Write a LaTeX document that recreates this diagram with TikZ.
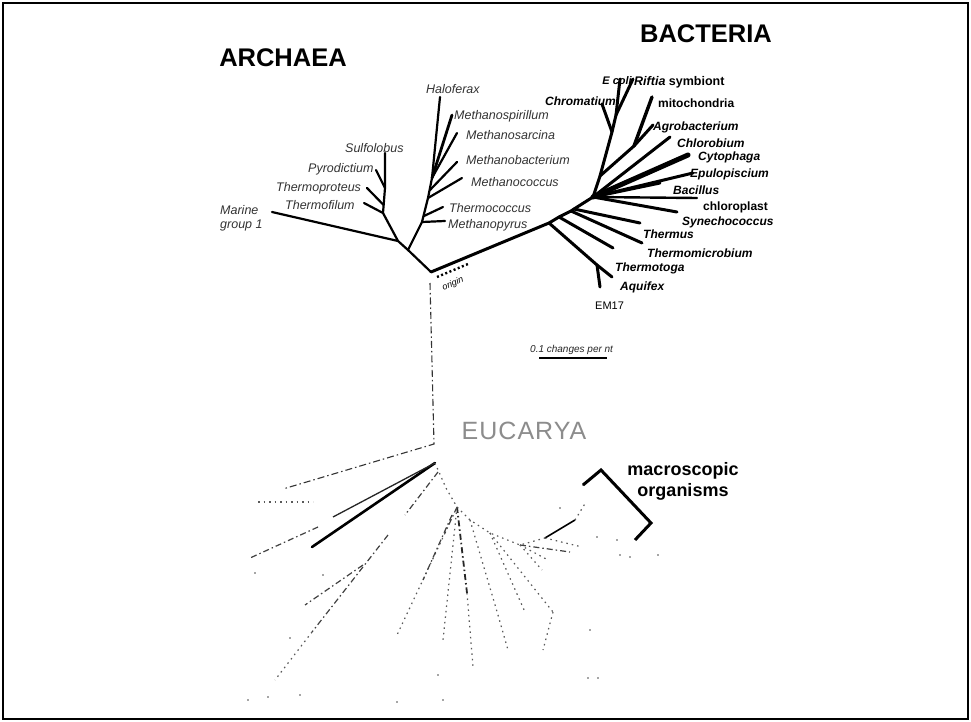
\documentclass[tikz,border=0pt]{standalone}
\usepackage{fontspec}
\setmainfont{Liberation Sans}
\begin{document}
\begin{tikzpicture}[x=1pt,y=-1pt,
  arch/.style={line width=2.2pt,line cap=round,line join=round},
  bact/.style={line width=3pt,line cap=round,line join=round},
  alab/.style={font=\fontsize{12.5}{14}\selectfont\itshape,anchor=west,inner sep=0pt,text=black!80},
  blab/.style={font=\fontsize{12}{14}\selectfont\bfseries\itshape,anchor=west,inner sep=0pt},
  bup/.style={font=\fontsize{12}{14}\selectfont\bfseries,anchor=west,inner sep=0pt},
  title/.style={font=\fontsize{25.5}{30}\selectfont\bfseries,inner sep=0pt},
  rootline/.style={line width=1.1pt,black!80,dash pattern=on 7pt off 3pt on 1.5pt off 3pt},
  ethick/.style={line width=2.6pt,line cap=round},
  emid/.style={line width=1.3pt,black!85},
  edash/.style={line width=1.2pt,black!75,dash pattern=on 6pt off 3pt on 1.5pt off 3pt},
  edot/.style={line width=1.2pt,black!65,dash pattern=on 1.5pt off 4pt},
  dotpt/.style={circle,fill=black!70,inner sep=0pt,minimum size=1.8pt}]
\useasboundingbox (0,0) rectangle (971,722);
\fill[white] (0,0) rectangle (971,722);
\draw[line width=1.2pt] (3,3) rectangle (968,719);

% ---------- titles ----------
\node[title] (tArch) at (283,58) {ARCHAEA};
\node[title] (tBact) at (706,34) {BACTERIA};
\node[font=\fontsize{25}{30}\selectfont\addfontfeature{LetterSpace=4},text=black!45,inner sep=0pt] (tEuk) at (524,431) {EUCARYA};

% ---------- archaea ----------
\coordinate (V) at (431,272);
\coordinate (A0) at (408,250);
\coordinate (C0) at (398,241);
\coordinate (mar) at (272,212);
\coordinate (C1) at (383,213);
\coordinate (C1b) at (383.6,205);
\coordinate (thf) at (364,203);
\coordinate (thp) at (367,188);
\coordinate (C2) at (385,188);
\coordinate (pyr) at (376,170);
\coordinate (sul) at (385,153);
\coordinate (E1) at (422,222);
\coordinate (E1b) at (424,216);
\coordinate (E2) at (428,198);
\coordinate (E2b) at (430,190);
\coordinate (E3) at (432,178);
\coordinate (mpy) at (445,221);
\coordinate (tco) at (443,207);
\coordinate (mco) at (462,178);
\coordinate (mba) at (457,162);
\coordinate (msa) at (457,133);
\coordinate (msp) at (452,115);
\coordinate (hal) at (440,97);

\draw[arch] (V) -- (A0) -- (C0) -- (mar);
\draw[arch] (C0) -- (C1) -- (C2) -- (sul);
\draw[arch] (C1) -- (thf);
\draw[arch] (C1b) -- (thp);
\draw[arch] (C2) -- (pyr);
\draw[arch] (A0) -- (E1) -- (E2) -- (E3) -- (hal);
\draw[arch] (E1) -- (mpy);
\draw[arch] (E1b) -- (tco);
\draw[arch] (E2) -- (mco);
\draw[arch] (E2b) -- (mba);
\draw[arch] (E3) -- (msa);
\draw[arch,line width=2.8pt] (E3) -- (msp);

\node[alab] (lHal) at (426,89) {Haloferax};
\node[alab] (lMsp) at (454,116) {Methanospirillum};
\node[alab] (lMsa) at (466,135) {Methanosarcina};
\node[alab] (lMba) at (466,160) {Methanobacterium};
\node[alab] (lMco) at (471,182) {Methanococcus};
\node[alab] (lTco) at (449,208) {Thermococcus};
\node[alab] (lMpy) at (448,225) {Methanopyrus};
\node[alab] (lSul) at (345,148) {Sulfolobus};
\node[alab] (lPyr) at (308,169) {Pyrodictium};
\node[alab] (lThp) at (276,188) {Thermoproteus};
\node[alab] (lThf) at (285,205) {Thermofilum};
\node[alab,align=left] (lMar) at (220,218) {Marine\\group 1};

% ---------- bacteria ----------
\coordinate (B1) at (549,223);
\coordinate (B2) at (559,217);
\coordinate (B3) at (571,211);
\coordinate (B4) at (574,209);
\coordinate (J) at (593,197);
\coordinate (tmg) at (612,277);
\coordinate (sub) at (597,265);
\coordinate (aqu) at (600,287);
\coordinate (unl) at (613,248);
\coordinate (tmi) at (642,243);
\coordinate (ths) at (640,223);
\coordinate (syn) at (677,212);
\coordinate (chl) at (697,198);
\coordinate (bac) at (660,183);
\coordinate (epu) at (693,173);
\coordinate (cyt) at (688,155);
\coordinate (chb) at (670,137);
\coordinate (P0) at (600,176);
\coordinate (agr) at (653,125);
\coordinate (M0) at (634,146);
\coordinate (mit) at (652,97);
\coordinate (P1) at (612,132);
\coordinate (chr) at (602,104);
\coordinate (P2) at (616,115);
\coordinate (eco) at (620,79);
\coordinate (rif) at (633,79);

\draw[bact] (V) -- (B1) -- (B2) -- (B3) -- (B4) -- (J);
\draw[bact] (B1) -- (sub) -- (tmg);
\draw[bact] (sub) -- (aqu);
\draw[bact] (B2) -- (unl);
\draw[bact] (B3) -- (tmi);
\draw[bact] (B4) -- (ths);
\draw[bact] (J) -- (syn);
\draw[bact,line width=2.4pt] (J) -- (chl);
\draw[bact] (J) -- (bac);
\draw[bact] (J) -- (epu);
\draw[bact,line width=5pt] (J) -- (cyt);
\draw[bact] (J) -- (chb);
\draw[bact] (J) -- (P0) -- (P1) -- (P2) -- (eco);
\draw[bact] (P0) -- (M0) -- (agr);
\draw[bact,line width=3.4pt] (M0) -- (mit);
\draw[bact] (P1) -- (chr);
\draw[bact] (P2) -- (rif);

\node[blab,font=\fontsize{11}{13}\selectfont\bfseries\itshape,anchor=east] (lEco) at (632,81) {E coli};
\node[blab,font=\fontsize{12.5}{14}\selectfont\bfseries\itshape] (lRif) at (634,82) {Riftia \upshape symbiont};
\node[blab] (lChr) at (545,101) {Chromatium};
\node[bup] (lMit) at (658,103) {mitochondria};
\node[blab] (lAgr) at (653,127) {Agrobacterium};
\node[blab] (lChb) at (677,143) {Chlorobium};
\node[blab] (lCyt) at (698,157) {Cytophaga};
\node[blab] (lEpu) at (690,174) {Epulopiscium};
\node[blab] (lBac) at (673,190) {Bacillus};
\node[bup] (lChl) at (703,207) {chloroplast};
\node[blab] (lSyn) at (682,222) {Synechococcus};
\node[blab] (lThs) at (643,234) {Thermus};
\node[blab] (lTmi) at (647,253) {Thermomicrobium};
\node[blab] (lTmg) at (615,268) {Thermotoga};
\node[blab] (lAqu) at (620,287) {Aquifex};
\node[font=\fontsize{11}{13}\selectfont,anchor=west,inner sep=0pt] (lEM) at (595,306) {EM17};

% ---------- origin ----------
\coordinate (o1) at (437,277);
\coordinate (o2) at (468,264);
\draw[line width=2.4pt,dash pattern=on 2pt off 2.5pt] (o1) -- (o2);
\node[font=\fontsize{9}{10}\selectfont\itshape,rotate=22,inner sep=0pt] (lOri) at (453,284) {origin};

% ---------- scale bar ----------
\node[font=\fontsize{10}{12}\selectfont\itshape,anchor=west,inner sep=0pt,text=black!85] (lScale) at (530,350) {0.1 changes per nt};
\coordinate (s1) at (539,358);
\coordinate (s2) at (607,358);
\draw[line width=2.6pt] (s1) -- (s2);

% ---------- root to eucarya ----------
\coordinate (R0) at (430,283);
\coordinate (R1) at (434,444);
\coordinate (Rl) at (283,489);
\draw[rootline] (R0) -- (R1) -- (Rl);

% ---------- eucarya ----------
\coordinate (EN) at (435,463);
\coordinate (e1) at (312,547);
\coordinate (e2) at (333,517);
\coordinate (e3a) at (258,502);
\coordinate (e3b) at (313,502);
\coordinate (e4a) at (318,527);
\coordinate (e4b) at (250,558);
\coordinate (e5a) at (438,472);
\coordinate (e5b) at (405,515);
\coordinate (e6a) at (388,535);
\coordinate (e6b) at (312,632);
\coordinate (e6c) at (363,565);
\coordinate (e6d) at (305,605);
\coordinate (e6e) at (275,680);
\coordinate (EA) at (446,488);
\coordinate (EC) at (457,507);
\coordinate (EE) at (470,520);
\coordinate (EF) at (490,533);
\coordinate (EG) at (520,545);
\coordinate (EH) at (545,538);
\coordinate (EI) at (575,520);
\coordinate (EJ) at (586,502);
\coordinate (ec1) at (467,593);
\coordinate (ec2) at (473,667);
\coordinate (ec3) at (445,533);
\coordinate (ec4) at (397,635);
\coordinate (ec5) at (443,640);
\coordinate (ec6) at (452,515);
\coordinate (ec7) at (423,580);

\draw[ethick] (EN) -- (e1);
\draw[emid] (EN) -- (e2);
\draw[edot] (e3a) -- (e3b);
\draw[edash] (e4a) -- (e4b);
\draw[edash] (e5a) -- (e5b);
\draw[edash] (e6a) -- (e6b);
\draw[edot] (e6b) -- (e6e);
\draw[edash] (e6c) -- (e6d);
\draw[edot] (EN) -- (EA) -- (EC) -- (EE) -- (EF) -- (EG) -- (EH);
\draw[line width=1.6pt] (EH) -- (EI);
\draw[edot] (EI) -- (EJ);
\draw[edash,line width=1.8pt,black!85] (EC) -- (ec1);
\draw[edot] (ec1) -- (ec2);
\draw[edash] (EC) -- (ec3);
\draw[edot] (ec3) -- (ec4);
\draw[edot] (EC) -- (ec5);
\draw[edash] (ec6) -- (ec7);

\coordinate (f1) at (498,615);
\coordinate (f2) at (525,612);
\coordinate (f3) at (553,612);
\coordinate (f4) at (542,570);
\coordinate (f5) at (582,547);
\coordinate (f6) at (570,552);
\coordinate (f7) at (548,560);
\coordinate (f8) at (508,650);
\coordinate (f9) at (543,650);
\draw[edot] (EE) -- (f1);
\draw[edot] (EF) -- (f2);
\draw[edot] (EF) -- (f3);
\draw[edot] (EG) -- (f4);
\draw[edot] (EH) -- (f5);
\draw[edash] (EG) -- (f6);
\draw[edot] (EG) -- (f7);
\draw[edot] (f1) -- (f8);
\draw[edot] (f3) -- (f9);

% scattered remnants
\foreach \p [count=\i] in {(438,675),(590,630),(588,678),(598,678),(248,700),(268,697),(300,695),(397,702),(443,700),(255,573),(597,537),(617,540),(620,555),(630,557),(658,555),(583,485),(560,508),(323,575),(290,638)}
  \node[dotpt] (d\i) at \p {};

% ---------- macroscopic organisms ----------
\coordinate (k1) at (583,485);
\coordinate (k2) at (601,470);
\coordinate (k3) at (651,523);
\coordinate (k4) at (635,540);
\draw[line width=3pt,line join=miter] (k1) -- (k2) -- (k3) -- (k4);
\node[font=\fontsize{18}{21}\selectfont\bfseries,align=center,inner sep=0pt] (lMac) at (683,481) {macroscopic\\organisms};
\end{tikzpicture}
\end{document}
